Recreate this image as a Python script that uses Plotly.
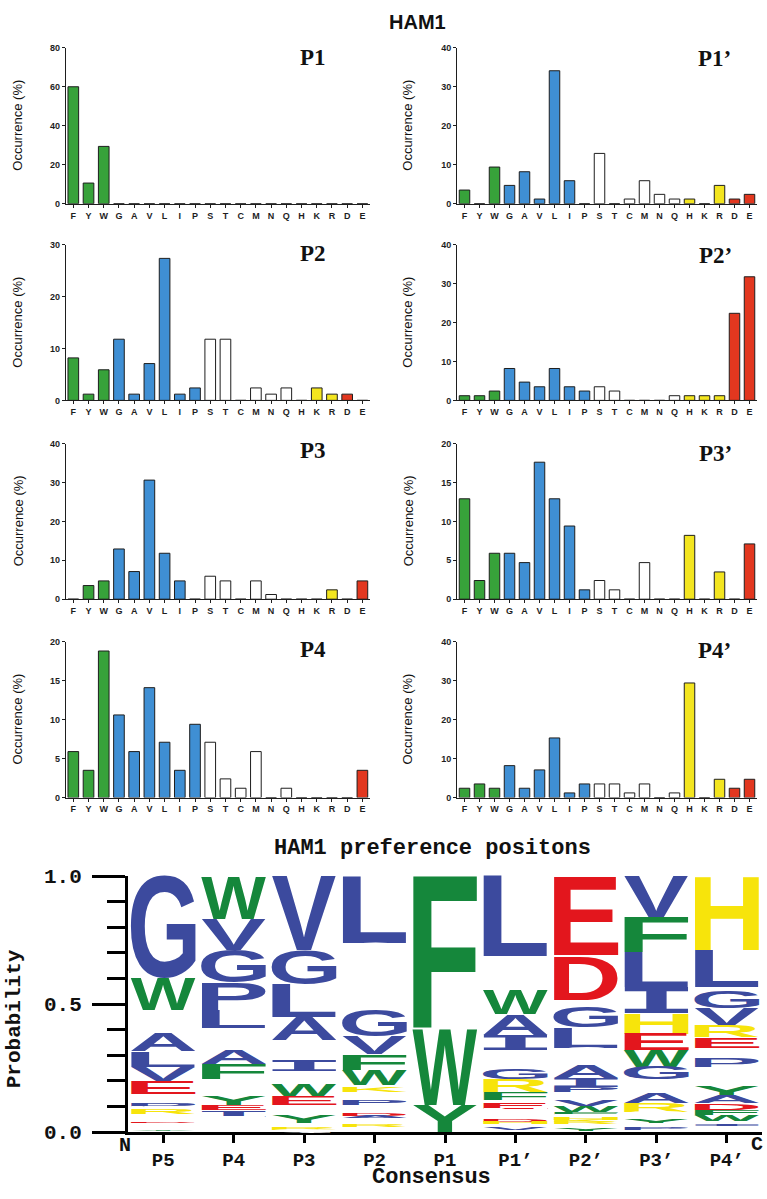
import json
import plotly.graph_objects as go

# ---------------- data ----------------
amino = ["F", "Y", "W", "G", "A", "V", "L", "I", "P", "S", "T", "C", "M", "N", "Q", "H", "K", "R", "D", "E"]

p1 = [60.0, 10.6, 29.4, 0, 0, 0, 0, 0, 0, 0, 0, 0, 0, 0, 0, 0, 0, 0, 0, 0]
p1p = [3.5, 0, 9.4, 4.7, 8.2, 1.2, 34.1, 5.9, 0, 12.9, 0, 1.2, 5.9, 2.4, 1.2, 1.2, 0, 4.7, 1.2, 2.4]
p2 = [8.2, 1.2, 5.9, 11.8, 1.2, 7.1, 27.4, 1.2, 2.4, 11.8, 11.8, 0, 2.4, 1.2, 2.4, 0, 2.4, 1.2, 1.2, 0]
p2p = [1.2, 1.2, 2.4, 8.2, 4.7, 3.5, 8.2, 3.5, 2.4, 3.5, 2.4, 0, 0, 0, 1.2, 1.2, 1.2, 1.2, 22.4, 31.8]
p3 = [0, 3.5, 4.7, 12.9, 7.1, 30.6, 11.8, 4.7, 0, 5.9, 4.7, 0, 4.7, 1.2, 0, 0, 0, 2.4, 0, 4.7]
p3p = [12.9, 2.4, 5.9, 5.9, 4.7, 17.6, 12.9, 9.4, 1.2, 2.4, 1.2, 0, 4.7, 0, 0, 8.2, 0, 3.5, 0, 7.1]
p4 = [5.9, 3.5, 18.8, 10.6, 5.9, 14.1, 7.1, 3.5, 9.4, 7.1, 2.4, 1.2, 5.9, 0, 1.2, 0, 0, 0, 0, 3.5]
p4p = [2.4, 3.5, 2.4, 8.2, 2.4, 7.1, 15.3, 1.2, 3.5, 3.5, 3.5, 1.2, 3.5, 0, 1.2, 29.4, 0, 4.7, 2.4, 4.7]

panel_names = ["P1", "P1’", "P2", "P2’", "P3", "P3’", "P4", "P4’"]
panel_values = [p1, p1p, p2, p2p, p3, p3p, p4, p4p]
panel_ymax = [80, 40, 30, 40, 40, 20, 20, 40]
panel_dtick = [20, 10, 10, 10, 10, 5, 5, 10]

# sequence logo: letters top -> bottom with probabilities, per position
logo_positions = ["P5", "P4", "P3", "P2", "P1", "P1’", "P2’", "P3’", "P4’"]
logo_letters = [
    ["G", "W", "S", "A", "L", "V", "E", "T", "P", "M", "R", "C", "D", "N", "Y"],
    ["W", "V", "G", "P", "L", "S", "A", "F", "M", "Y", "E", "I", "T", "C", "Q"],
    ["V", "G", "L", "A", "S", "I", "T", "W", "E", "M", "Y", "N", "R", "Q"],
    ["L", "S", "T", "G", "V", "F", "W", "N", "K", "M", "P", "Q", "D", "A", "C", "R"],
    ["F", "W", "Y"],
    ["L", "S", "W", "A", "I", "M", "G", "R", "F", "T", "E", "N", "D", "H", "C", "V"],
    ["E", "S", "D", "T", "G", "L", "C", "A", "I", "P", "M", "V", "W", "F", "N", "H", "K", "R", "Q", "Y"],
    ["V", "F", "L", "I", "H", "E", "W", "G", "M", "A", "R", "S", "Y", "T", "P"],
    ["H", "L", "S", "G", "V", "R", "E", "T", "P", "M", "Y", "A", "D", "F", "W", "C", "I"],
]
logo_probs = [
    [0.400, 0.125, 0.090, 0.070, 0.060, 0.055, 0.050, 0.035, 0.017, 0.008, 0.020, 0.030, 0.006, 0.022, 0.006],
    [0.166, 0.122, 0.128, 0.108, 0.071, 0.083, 0.057, 0.058, 0.070, 0.032, 0.019, 0.026, 0.030, 0.015, 0.015],
    [0.288, 0.134, 0.128, 0.090, 0.076, 0.045, 0.051, 0.047, 0.036, 0.041, 0.029, 0.017, 0.009, 0.009],
    [0.262, 0.131, 0.131, 0.103, 0.070, 0.062, 0.058, 0.007, 0.020, 0.031, 0.020, 0.033, 0.008, 0.008, 0.026, 0.010],
    [0.600, 0.294, 0.106],
    [0.313, 0.129, 0.096, 0.083, 0.060, 0.072, 0.042, 0.050, 0.031, 0.010, 0.022, 0.045, 0.008, 0.008, 0.015, 0.008],
    [0.307, 0.006, 0.172, 0.025, 0.080, 0.080, 0.070, 0.050, 0.035, 0.020, 0.030, 0.022, 0.025, 0.010, 0.012, 0.008, 0.008, 0.008, 0.020, 0.008],
    [0.165, 0.135, 0.135, 0.100, 0.080, 0.065, 0.065, 0.050, 0.050, 0.040, 0.035, 0.030, 0.020, 0.012, 0.010],
    [0.290, 0.145, 0.015, 0.065, 0.070, 0.045, 0.040, 0.040, 0.035, 0.075, 0.040, 0.028, 0.025, 0.022, 0.022, 0.012, 0.008],
]

# ---------------- styles ----------------
W, H = 767, 1199
bar_color = {"hyd_ar": "#37a23a", "hyd": "#3f8fd4", "polar": "#ffffff", "pos": "#f3e51f", "neg": "#e2371f"}
logo_color = {"hyd_ar": "#15873b", "hyd": "#3c4a9e", "polar": "#ffffff", "pos": "#f7e40b", "neg": "#e3161d"}
group = {}
for a in ["F", "Y", "W"]:
    group[a] = "hyd_ar"
for a in ["G", "A", "V", "L", "I", "P"]:
    group[a] = "hyd"
for a in ["S", "T", "C", "M", "N", "Q"]:
    group[a] = "polar"
for a in ["H", "K", "R"]:
    group[a] = "pos"
for a in ["D", "E"]:
    group[a] = "neg"

SANS = "Liberation Sans, Arial, sans-serif"
SERIF = "Liberation Serif, Times New Roman, serif"
MONO = "Liberation Mono, Courier New, monospace"

col_px = [(65.7, 370.0), (457.0, 757.0)]
row_px = [(38.5, 197.5), (239.5, 398.0), (442.0, 600.7), (644.0, 803.0)]
label_px = [(313, 48), (714, 49), (313, 248), (715, 250), (313, 449), (715, 452), (313, 652), (714, 653)]
ytitle_x = [18, 408]


def px_x(v):
    return v / W


def px_y(v):
    return 1 - v / H


def paper_text(text, x, y, font, angle=0):
    return dict(text=text, x=px_x(x), y=px_y(y), xref="paper", yref="paper", showarrow=False,
                xanchor="center", yanchor="middle", textangle=angle, font=font)


fig = go.Figure()
layout = dict(
    width=W, height=H, margin=dict(l=0, r=0, t=0, b=0),
    paper_bgcolor="white", plot_bgcolor="white", showlegend=False,
)
annotations = []

for i, (name, vals) in enumerate(zip(panel_names, panel_values)):
    n = i + 1
    r, c = divmod(i, 2)
    xs = "" if n == 1 else str(n)
    fig.add_trace(go.Bar(
        x=amino, y=vals, width=0.7,
        marker=dict(color=[bar_color[group[a]] for a in amino], line=dict(color="#1e1e1e", width=1)),
        xaxis="x" + xs, yaxis="y" + xs, hoverinfo="skip",
    ))
    layout["xaxis" + xs] = dict(
        domain=[px_x(col_px[c][0]), px_x(col_px[c][1])], anchor="y" + xs,
        type="category", categoryorder="array", categoryarray=amino, range=[-0.5, 19.5],
        showline=True, linecolor="#1e1e1e", linewidth=1, ticks="outside", ticklen=3, tickwidth=1,
        tickcolor="#1e1e1e", tickfont=dict(family=SANS, size=9, color="#1e1e1e", weight="bold"),
        showgrid=False, zeroline=False, fixedrange=True,
    )
    layout["yaxis" + xs] = dict(
        domain=[px_y(row_px[r][1]), px_y(row_px[r][0])], anchor="x" + xs,
        range=[0, panel_ymax[i]], dtick=panel_dtick[i], tick0=0,
        showline=True, linecolor="#1e1e1e", linewidth=1, ticks="outside", ticklen=3, tickwidth=1,
        tickcolor="#1e1e1e", tickfont=dict(family=SANS, size=9, color="#1e1e1e", weight="bold"),
        showgrid=False, zeroline=False, fixedrange=True,
    )
    annotations.append(paper_text(name, label_px[i][0], label_px[i][1],
                                  dict(family=SERIF, size=23, color="#111", weight="bold")))
    annotations.append(paper_text("Occurrence (%)", ytitle_x[c], (row_px[r][0] + row_px[r][1]) / 2,
                                  dict(family=SANS, size=13, color="#111"), angle=-90))

annotations.append(paper_text("HAM1", 417, 12, dict(family=SANS, size=20, color="#111", weight="bold")))

# ---------------- logo ----------------
layout["xaxis9"] = dict(
    domain=[px_x(128), px_x(762)], anchor="y9", range=[-0.5, 8.5],
    tickmode="array", tickvals=list(range(len(logo_positions))), ticktext=logo_positions,
    showline=True, linecolor="black", linewidth=3, ticks="outside", ticklen=8, tickwidth=3, tickcolor="black",
    ticklabelstandoff=0,
    tickfont=dict(family=MONO, size=19, color="#111", weight="bold"),
    showgrid=False, zeroline=False, fixedrange=True,
)
layout["yaxis9"] = dict(
    domain=[px_y(1144), px_y(883)], anchor="x9", range=[0, 1],
    tickmode="array", tickvals=[0, 0.5, 1.0], ticktext=["0.0", "0.5", "1.0"],
    showline=True, linecolor="black", linewidth=3, ticks="outside", ticklen=33, tickwidth=3, tickcolor="black",
    ticklabelstandoff=6,
    minor=dict(dtick=0.1, tick0=0, ticks="outside", ticklen=18, tickwidth=3, tickcolor="black", showgrid=False),
    tickfont=dict(family=MONO, size=21, color="#111", weight="bold"),
    showgrid=False, zeroline=False, fixedrange=True,
)
mono_font = dict(family=MONO, size=22, color="#111", weight="bold")
annotations.append(paper_text("HAM1 preference positons", 432, 855, mono_font))
annotations.append(paper_text("Probability", 14, 1029, dict(family=MONO, size=21, color="#111", weight="bold"), angle=-90))
annotations.append(paper_text("Consensus", 431, 1190, mono_font))
annotations.append(paper_text("N", 125, 1158, dict(family=MONO, size=20, color="#111", weight="bold")))
annotations.append(paper_text("C", 757, 1157, dict(family=MONO, size=20, color="#111", weight="bold")))

unit_px = (1144 - 883)
boxes = []
for ci, (letters, probs) in enumerate(zip(logo_letters, logo_probs)):
    top = 1.0
    for letter, p in zip(letters, probs):
        bottom = top - p
        fam = "Liberation Mono" if letter == "I" else "Liberation Sans"
        size = max(1, min(200, p * unit_px / 0.72))
        boxes.append([len(annotations), ci, bottom, top, letter, fam])
        annotations.append(dict(
            text=letter, x=ci, y=(top + bottom) / 2, xref="x9", yref="y9", showarrow=False,
            xanchor="center", yanchor="middle",
            font=dict(family=fam, size=size, color=logo_color[group[letter]], weight="bold"),
        ))
        top = bottom

layout["annotations"] = annotations
fig.update_layout(**layout)

# Stretch each logo letter so its glyph fills the box computed above (classic sequence-logo look).
js = """
(function(){
  var gd = document.getElementById('{plot_id}');
  document.documentElement.style.overflow = 'hidden';
  document.body.style.margin = '0';
  document.body.style.overflow = 'hidden';
  var BOXES = __BOXES__;
  var HW = 0.4615;
  function apply(){
    var fl = gd._fullLayout; if (!fl) return;
    var xa = fl.xaxis9, ya = fl.yaxis9;
    var cv = document.createElement('canvas'); var ctx = cv.getContext('2d');
    var groups = gd.querySelectorAll('g.annotation');
    BOXES.forEach(function(b){
      var g = gd.querySelector('g.annotation[data-index="' + b[0] + '"]') || groups[b[0]];
      if (!g) return;
      var t = g.querySelector('text');
      if (!t) return;
      ctx.font = 'bold 100px "' + b[5] + '"';
      var m = ctx.measureText(b[4]);
      var aL = m.actualBoundingBoxLeft, aR = m.actualBoundingBoxRight;
      var aA = m.actualBoundingBoxAscent, aD = m.actualBoundingBoxDescent;
      if (!(aL + aR > 0) || !(aA + aD > 0)) return;
      var x0 = xa._offset + xa.l2p(b[1] - HW), x1 = xa._offset + xa.l2p(b[1] + HW);
      var yb = ya._offset + ya.l2p(b[2]), yt = ya._offset + ya.l2p(b[3]);
      var sx = (x1 - x0) / (aL + aR), sy = (yb - yt) / (aA + aD);
      t.style.fontSize = '100px';
      t.style.fontFamily = '"' + b[5] + '"';
      t.style.fontWeight = 'bold';
      t.setAttribute('text-anchor', 'start');
      t.setAttribute('x', 0); t.setAttribute('y', 0);
      var sp = t.querySelectorAll('tspan');
      for (var i = 0; i < sp.length; i++) { sp[i].removeAttribute('x'); sp[i].removeAttribute('y'); sp[i].removeAttribute('dy'); }
      t.removeAttribute('transform');
      var ctm = t.parentNode.getCTM();
      var tx = x0 + aL * sx - ctm.e, ty = yb - aD * sy - ctm.f;
      t.setAttribute('transform', 'translate(' + tx + ',' + ty + ') scale(' + sx + ',' + sy + ')');
    });
  }
  apply();
  gd.on('plotly_afterplot', apply);
})();
""".replace("__BOXES__", json.dumps(boxes))

fig.write_html("out.html", config={"responsive": False, "displayModeBar": False}, post_script=js)
